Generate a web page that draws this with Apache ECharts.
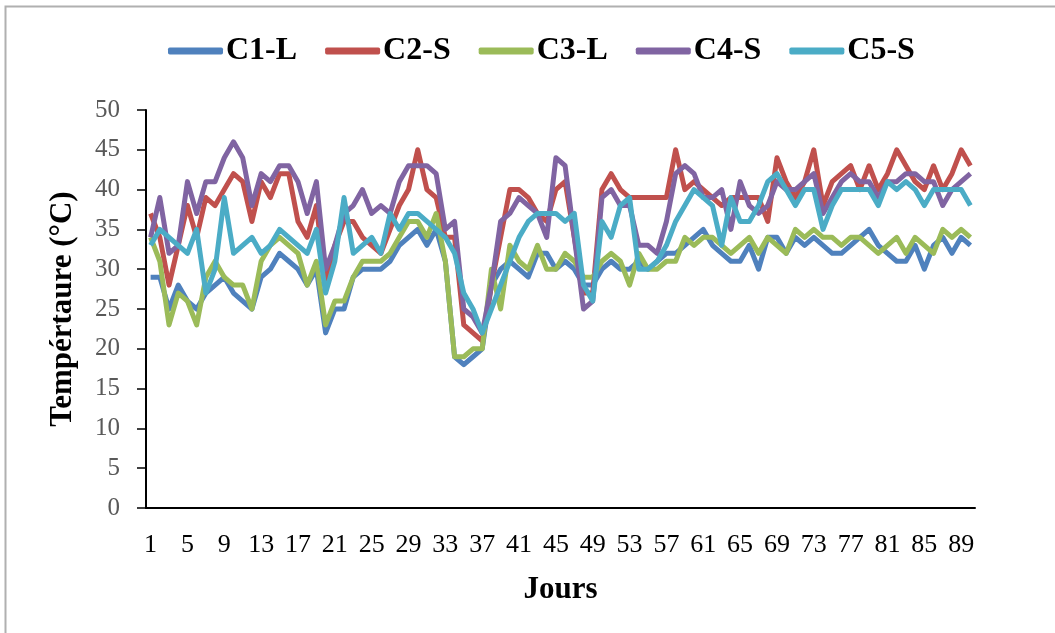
<!DOCTYPE html>
<html>
<head>
<meta charset="utf-8">
<script src="https://cdn.jsdelivr.net/npm/echarts@6/dist/echarts.min.js"></script>
<style>html,body{margin:0;padding:0;background:#fff;}#c{width:1055px;height:633px;}</style>
</head>
<body>
<div id="c"></div>
<script>
const days = Array.from({length: 90}, (_, i) => String(i + 1));
const seriesNames = ['C1-L', 'C2-S', 'C3-L', 'C4-S', 'C5-S'];
const colors = ['#4F81BD', '#C0504D', '#9BBB59', '#8064A2', '#4BACC6'];
const yTicks = [0, 5, 10, 15, 20, 25, 30, 35, 40, 45, 50];

const c1 = [29,29,25,28,26,25,27,28,29,27,26,25,29,30,32,31,30,28,30,22,
            25,25,29,30,30,30,31,33,34,35,33,35,31,19,18,19,20,28,30,31,
            30,29,32,32,30,31,30,28,28,30,31,30,30,31,30,31,32,32,33,34,
            35,33,32,31,31,33,30,34,34,32,34,33,34,33,32,32,33,34,35,33,
            32,31,31,33,30,33,34,32,34,33];
const c2 = [37,34,28,33,38,34,39,38,40,42,41,36,41,39,42,42,36,34,38,28,
            33,36,36,34,33,32,35,38,40,45,40,39,34,34,23,22,21,28,34,40,
            40,39,37,36,40,41,34,27,27,40,42,40,39,39,39,39,39,45,40,41,
            40,39,38,39,39,39,39,36,44,41,39,41,45,38,41,42,43,40,43,40,
            42,45,43,41,40,43,40,42,45,43];
const c3 = [34,31,23,27,26,23,29,31,29,28,28,25,31,33,34,33,32,28,31,23,
            26,26,29,31,31,31,32,34,36,36,34,37,31,19,19,20,20,30,25,33,
            31,30,33,30,30,32,31,29,29,31,32,31,28,32,30,30,31,31,34,33,
            34,34,33,32,33,34,32,34,33,32,35,34,35,34,34,33,34,34,33,32,
            33,34,32,34,33,32,35,34,35,34];
const c4 = [34,39,32,33,41,37,41,41,44,46,44,38,42,41,43,43,41,37,41,30,
            33,37,38,40,37,38,37,41,43,43,43,42,35,36,25,24,22,28,36,37,
            39,38,37,34,44,43,34,25,26,39,40,38,38,33,33,32,36,42,43,42,
            39,39,40,35,41,38,37,38,41,40,40,41,42,37,39,41,42,41,41,39,
            41,41,42,42,41,41,38,40,41,42];
const c5 = [33,35,34,33,32,35,27,30,39,32,33,34,32,33,35,34,33,32,35,27,
            31,39,32,33,34,32,37,35,37,37,36,35,34,32,27,25,22,25,28,31,
            34,36,37,37,37,36,37,28,26,36,34,38,39,30,30,31,33,36,38,40,
            39,38,33,39,36,36,38,41,42,40,38,40,40,35,38,40,40,40,40,38,
            41,40,41,40,38,40,40,40,40,38];
const values = [c1, c2, c3, c4, c5];

const serif = '"Liberation Serif", "Times New Roman", serif';
const chart = echarts.init(document.getElementById('c'));
chart.setOption({
  animation: false,
  backgroundColor: '#fff',
  graphic: [{
    type: 'polyline',
    shape: {points: [[5.5, 633], [5.5, 6.5], [1055, 6.5]]},
    style: {stroke: '#b0b0b0', lineWidth: 2, fill: null}
  }],
  legend: {
    top: 30,
    left: 163,
    itemWidth: 55,
    itemHeight: 7,
    itemGap: 28,
    icon: 'roundRect',
    textStyle: {fontFamily: serif, fontSize: 32, fontWeight: 'bold', color: '#000', padding: [0, 0, 0, -2]},
    data: seriesNames
  },
  grid: {left: 146, right: 80, top: 110, bottom: 125, containLabel: false},
  xAxis: {
    type: 'category',
    data: days,
    boundaryGap: true,
    name: 'Jours',
    nameLocation: 'middle',
    nameGap: 66,
    nameTextStyle: {fontFamily: serif, fontSize: 31, fontWeight: 'bold', color: '#000'},
    axisLine: {lineStyle: {color: '#000', width: 2}},
    axisTick: {show: false},
    axisLabel: {interval: 3, fontFamily: serif, fontSize: 26, color: '#000', margin: 24}
  },
  yAxis: {
    type: 'value',
    min: 0,
    max: 50,
    interval: 5,
    name: 'Tempértaure (°C)',
    nameLocation: 'middle',
    nameGap: 68,
    nameRotate: 90,
    nameTextStyle: {fontFamily: serif, fontSize: 31, fontWeight: 'bold', color: '#000'},
    axisLine: {show: true, lineStyle: {color: '#000', width: 2}},
    axisTick: {show: true, length: 9, lineStyle: {color: '#000', width: 1.5}},
    splitLine: {show: false},
    axisLabel: {fontFamily: serif, fontSize: 25, color: '#595959', margin: 26,
      formatter: v => yTicks.includes(v) ? String(v) : ''}
  },
  series: values.map((d, i) => ({
    name: seriesNames[i],
    type: 'line',
    data: d,
    symbol: 'none',
    smooth: false,
    lineStyle: {width: 5, color: colors[i], join: 'round'},
    itemStyle: {color: colors[i]}
  }))
});
</script>
</body>
</html>
